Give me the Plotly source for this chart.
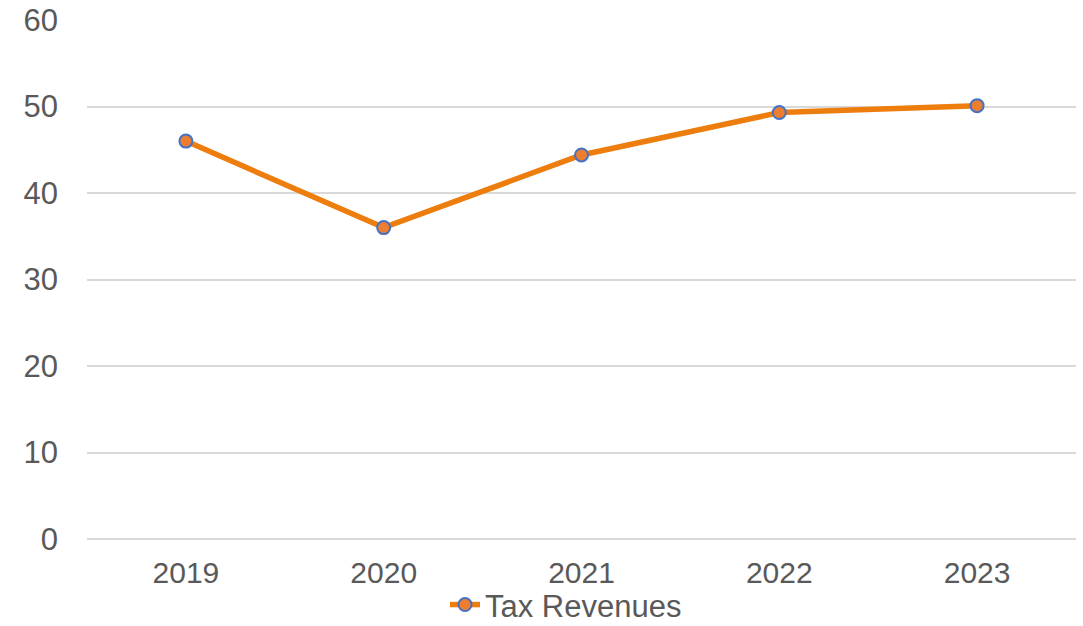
import plotly.graph_objects as go

years = ["2019", "2020", "2021", "2022", "2023"]
tax_revenues = [46.0, 36.0, 44.4, 49.3, 50.1]
y_ticks = [0, 10, 20, 30, 40, 50, 60]

fig = go.Figure()
fig.add_trace(go.Scatter(
    x=years, y=tax_revenues, mode="lines+markers", name="Tax Revenues",
    line=dict(color="#ED7D0D", width=5.5),
    marker=dict(size=13, color="#ED7D31", line=dict(color="#4472C4", width=2)),
))

fig.update_layout(
    width=1083, height=626,
    margin=dict(l=87, r=7, t=20, b=87, autoexpand=False),
    paper_bgcolor="white", plot_bgcolor="white",
    font=dict(family="Liberation Sans, Arial, sans-serif", size=30, color="#595959"),
    showlegend=True,
    legend=dict(orientation="h", x=0.362, xanchor="left", y=-0.127, yanchor="middle",
                font=dict(size=31, color="#595959"), itemwidth=30,
                bgcolor="rgba(0,0,0,0)"),
)
fig.update_xaxes(type="category", range=[-0.5, 4.5], showgrid=False, automargin=False,
                 showline=False, ticks="", ticklabelstandoff=13, zeroline=False)
fig.update_yaxes(range=[0, 60], tickvals=y_ticks, showgrid=True, gridcolor="#D9D9D9",
                 gridwidth=1.5, zeroline=True, zerolinecolor="#D9D9D9", zerolinewidth=1.5,
                 automargin=False, showline=False, ticks="", ticklabelstandoff=28,
                 tickfont=dict(size=31))

fig.write_html("out.html")
